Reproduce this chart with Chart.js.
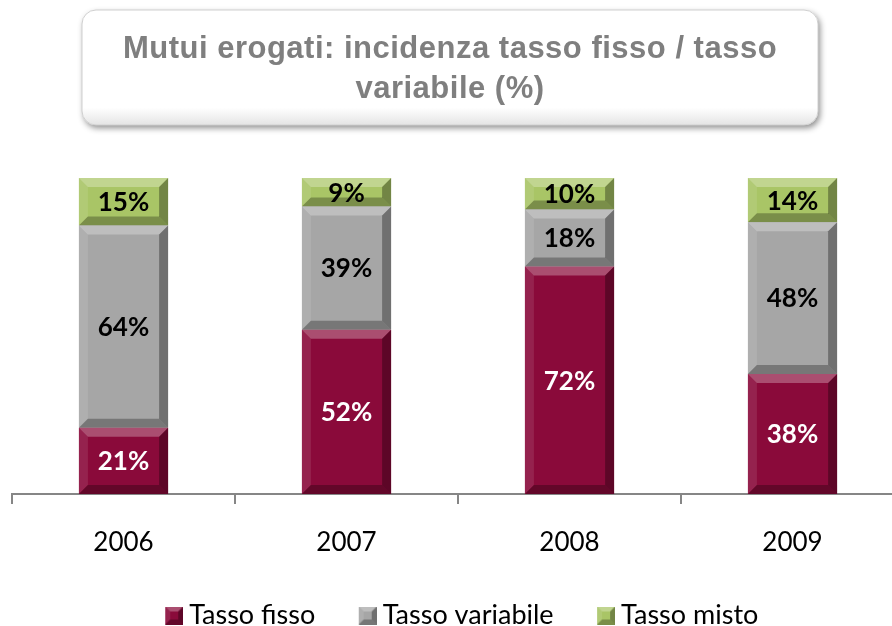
<!DOCTYPE html>
<html>
<head>
<meta charset="utf-8">
<script src="https://cdn.jsdelivr.net/npm/chart.js@4.4.1/dist/chart.umd.min.js"></script>
<style>
  html, body { margin: 0; padding: 0; background: #fff; overflow: hidden; }
  #wrap { width: 906px; height: 639px; }
</style>
</head>
<body>
<div id="wrap"><canvas id="mutuiChart"></canvas></div>
<script>
// Dati (%)
const years = ['2006', '2007', '2008', '2009'];
const tassoFisso = [21, 52, 72, 38];
const tassoVariabile = [64, 39, 18, 48];
const tassoMisto = [15, 9, 10, 14];
const titleLines = ['Mutui erogati: incidenza tasso fisso / tasso', 'variabile (%)'];

const colFisso = '#8a0a3a';
const colVariabile = '#a6a6a6';
const colMisto = '#a9c566';

function drawBevel(ctx, l, t, w, h, b) {
  const r = l + w, btm = t + h;
  b = Math.min(b, h / 2, w / 2);
  ctx.save();
  // top
  ctx.fillStyle = 'rgba(255,255,255,0.28)';
  ctx.beginPath();
  ctx.moveTo(l, t); ctx.lineTo(r, t); ctx.lineTo(r - b, t + b); ctx.lineTo(l + b, t + b);
  ctx.closePath(); ctx.fill();
  // left
  ctx.fillStyle = 'rgba(255,255,255,0.10)';
  ctx.beginPath();
  ctx.moveTo(l, t); ctx.lineTo(l + b, t + b); ctx.lineTo(l + b, btm - b); ctx.lineTo(l, btm);
  ctx.closePath(); ctx.fill();
  // right
  ctx.fillStyle = 'rgba(0,0,0,0.32)';
  ctx.beginPath();
  ctx.moveTo(r, t); ctx.lineTo(r - b, t + b); ctx.lineTo(r - b, btm - b); ctx.lineTo(r, btm);
  ctx.closePath(); ctx.fill();
  // bottom
  ctx.fillStyle = 'rgba(0,0,0,0.28)';
  ctx.beginPath();
  ctx.moveTo(l, btm); ctx.lineTo(r, btm); ctx.lineTo(r - b, btm - b); ctx.lineTo(l + b, btm - b);
  ctx.closePath(); ctx.fill();
  ctx.restore();
}

// bevelled square for the legend, drawn at the right side of the image
// so the text sits close to it
function bevelBox(color) {
  const c = document.createElement('canvas');
  c.width = 33; c.height = 18;
  const g = c.getContext('2d');
  g.fillStyle = color;
  g.fillRect(15, 0, 18, 18);
  drawBevel(g, 15, 0, 18, 18, 5);
  return c;
}

// title box drawn on the canvas
const titleBox = {
  id: 'titleBox',
  beforeDraw(chart) {
    const ctx = chart.ctx;
    const x = 82, y = 10, w = 736, h = 115, rad = 14;
    ctx.save();
    ctx.shadowColor = 'rgba(0,0,0,0.45)';
    ctx.shadowBlur = 6;
    ctx.shadowOffsetX = 2;
    ctx.shadowOffsetY = 3;
    ctx.fillStyle = '#ffffff';
    ctx.beginPath();
    ctx.roundRect(x, y, w, h, rad);
    ctx.fill();
    ctx.shadowColor = 'transparent';
    const grad = ctx.createLinearGradient(0, y, 0, y + h);
    grad.addColorStop(0, '#ffffff');
    grad.addColorStop(0.85, '#ffffff');
    grad.addColorStop(1, '#e4e4e4');
    ctx.fillStyle = grad;
    ctx.fill();
    ctx.strokeStyle = '#d0d0d0';
    ctx.lineWidth = 1;
    ctx.stroke();
    ctx.fillStyle = '#7f7f7f';
    ctx.font = 'bold 31px "Liberation Sans", Arial, sans-serif';
    ctx.letterSpacing = '0.5px';
    ctx.textAlign = 'center';
    ctx.textBaseline = 'middle';
    ctx.fillText(titleLines[0], x + w / 2, 49);
    ctx.fillText(titleLines[1], x + w / 2, 89);
    ctx.restore();
  }
};

// bevel + value labels on each segment
const barDecor = {
  id: 'barDecor',
  afterDatasetsDraw(chart) {
    const ctx = chart.ctx;
    chart.data.datasets.forEach((ds, di) => {
      const meta = chart.getDatasetMeta(di);
      meta.data.forEach((bar, i) => {
        const p = bar.getProps(['x', 'y', 'base', 'width'], true);
        const top = Math.min(p.y, p.base), bottom = Math.max(p.y, p.base);
        const left = p.x - p.width / 2;
        drawBevel(ctx, left, top, p.width, bottom - top, 9);
        ctx.save();
        ctx.font = 'bold 26px Lato, "Open Sans", sans-serif';
        ctx.fillStyle = di === 0 ? '#ffffff' : '#000000';
        ctx.textAlign = 'center';
        ctx.textBaseline = 'middle';
        ctx.fillText(ds.data[i] + '%', p.x, (top + bottom) / 2 + 1);
        ctx.restore();
      });
    });
  }
};

const ctx = document.getElementById('mutuiChart');
new Chart(ctx, {
  type: 'bar',
  data: {
    labels: years,
    datasets: [
      { label: 'Tasso fisso', data: tassoFisso, backgroundColor: colFisso, pointStyle: bevelBox(colFisso) },
      { label: 'Tasso variabile', data: tassoVariabile, backgroundColor: colVariabile, pointStyle: bevelBox(colVariabile) },
      { label: 'Tasso misto', data: tassoMisto, backgroundColor: colMisto, pointStyle: bevelBox(colMisto) }
    ]
  },
  options: {
    responsive: true,
    maintainAspectRatio: false,
    animation: false,
    layout: { padding: { top: 178, left: 12, right: 2, bottom: 0 } },
    datasets: {
      bar: { barPercentage: 0.4, categoryPercentage: 1, borderWidth: 0 }
    },
    scales: {
      x: {
        stacked: true,
        afterFit(scale) { scale.height = 72; },
        grid: { drawOnChartArea: false, drawTicks: true, tickLength: 10, color: '#868686', lineWidth: 2 },
        border: { color: '#868686', width: 2 },
        ticks: { color: '#000', padding: 23, font: { family: 'Lato', size: 26 } }
      },
      y: { stacked: true, display: false, min: 0, max: 100 }
    },
    plugins: {
      legend: {
        position: 'bottom',
        labels: {
          usePointStyle: true,
          pointStyleWidth: 18,
          color: '#000',
          padding: 36,
          font: { family: 'Lato', size: 27 }
        }
      },
      tooltip: { enabled: false }
    }
  },
  plugins: [titleBox, barDecor]
});
</script>
</body>
</html>
